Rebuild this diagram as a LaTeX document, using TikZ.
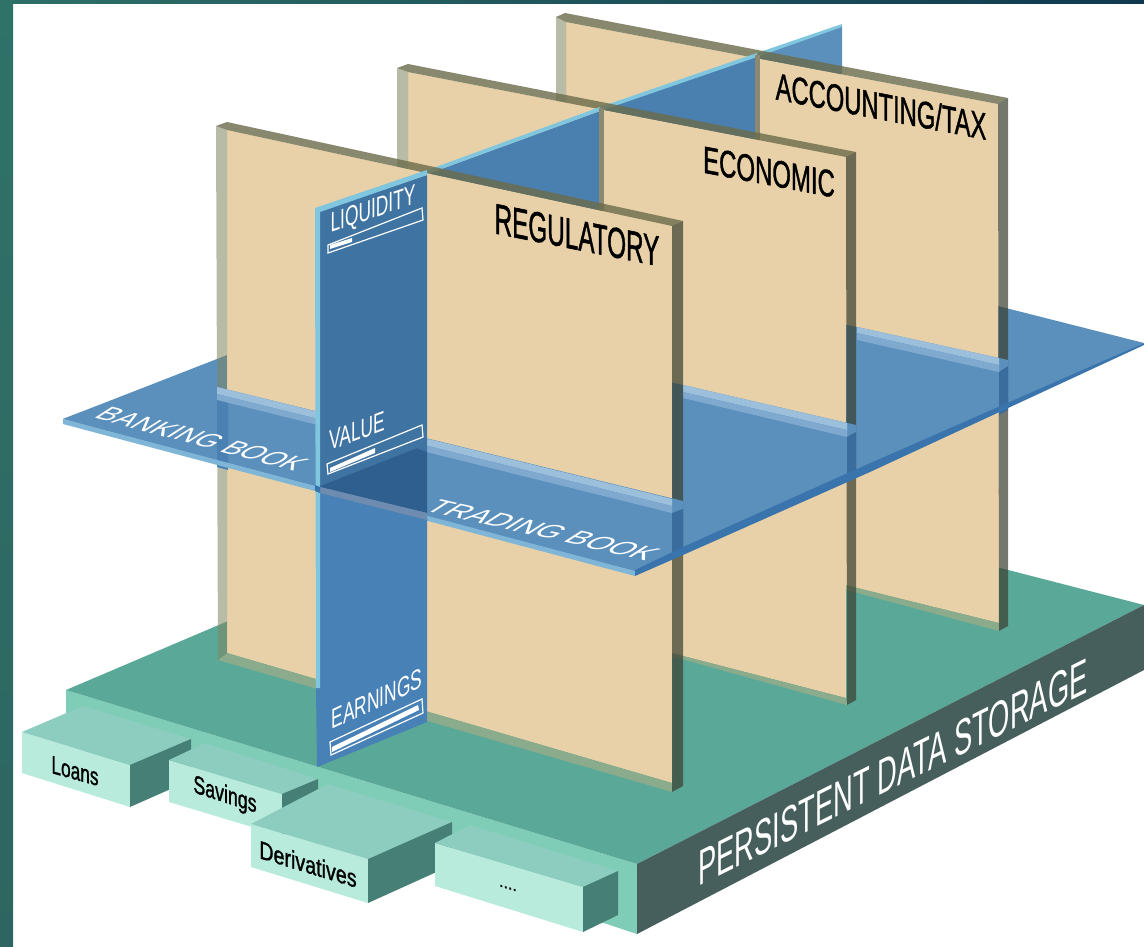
\documentclass[tikz,border=0pt]{standalone}
\usepackage{fontspec}
\setmainfont{Liberation Sans}
\newfontfamily\heavyfont[FakeBold=1.4]{Liberation Sans}
\definecolor{paneltan}{HTML}{E8D1A8}
\definecolor{frameA}{HTML}{2E7068}
\definecolor{frameB}{HTML}{10394F}
\definecolor{frameC}{HTML}{2F7268}
\definecolor{frameD}{HTML}{2E6560}
\definecolor{slabtop}{HTML}{5AA898}
\definecolor{slabfront}{HTML}{7FCDB6}
\definecolor{slabside}{HTML}{465F5C}
\definecolor{boxtop}{HTML}{8CCDBF}
\definecolor{boxfront}{HTML}{B8EBDB}
\definecolor{boxside}{HTML}{467F75}
\definecolor{planeblue}{HTML}{5B90BC}
\definecolor{lightstrip}{HTML}{9CC0DC}
\definecolor{bandstrip}{HTML}{7FA9CF}
\definecolor{edgelight}{HTML}{7FB5D6}
\definecolor{edgedark}{HTML}{3A74AC}
\definecolor{cyanedge}{HTML}{7FC6DE}
\definecolor{segup}{HTML}{3F73A2}
\definecolor{seglow}{HTML}{4781B6}
\definecolor{segmid}{HTML}{4A80B0}
\definecolor{segback}{HTML}{5B90BC}
\definecolor{segdark}{HTML}{2F5F8E}
\definecolor{seggrey}{HTML}{6E8CB0}
\definecolor{underblue}{HTML}{3A6C9E}
\definecolor{leftunder}{HTML}{4A80B2}
\definecolor{bottomstrip}{HTML}{8AAB8C}
\definecolor{olivetop}{HTML}{6B6B4A}
\definecolor{oliveleft}{HTML}{7F8560}
\definecolor{oliveright}{HTML}{3A3F2F}
\definecolor{olivevert}{HTML}{8A8A72}
\tikzset{
  facefill/.style={fill=paneltan},
  topedge/.style={fill=olivetop,fill opacity=.8},
  leftedge/.style={fill=oliveleft,fill opacity=.55},
  rightedge/.style={fill=oliveright,fill opacity=.7},
  botedge/.style={fill=bottomstrip},
  lbl/.style n args={3}{inner sep=0pt,outer sep=0pt,cm={#1,#2,0,#3,(0,0)}},
  flat/.style n args={4}{inner sep=0pt,outer sep=0pt,cm={#1,#2,#3,#4,(0,0)}},
  barline/.style={draw=white,line width=1.2pt,line join=miter},
  whitefill/.style={fill=white}
}
\begin{document}
\begin{tikzpicture}[x=1pt,y=-1pt]
\path[use as bounding box,fill=white] (0,0) rectangle (1144,946);
% frame strips
\shade[left color=frameA,right color=frameB] (0,0) rectangle (1144,3);
\shade[top color=frameC,bottom color=frameD] (0,0) rectangle (13,946);
% slab
\fill[slabfront] (66,690)--(637,864)--(637,934)--(66,745)--cycle;
\fill[slabtop] (66,690)--(597,464)--(1144,605)--(637,864)--cycle;
\fill[slabside] (637,864)--(1144,605)--(1144,670)--(637,934)--cycle;
% boxes
\fill[boxfront] (22,732)--(130,765)--(130,807)--(22,773)--cycle;
\fill[boxtop] (22,732)--(83,706)--(191,739)--(130,765)--cycle;
\fill[boxside] (130,765)--(191,739)--(191,780)--(130,807)--cycle;
\fill[boxfront] (169,760)--(282,794)--(282,836)--(169,802)--cycle;
\fill[boxtop] (169,760)--(205,743)--(318,779)--(282,794)--cycle;
\fill[boxside] (282,794)--(318,779)--(318,821)--(282,836)--cycle;
\fill[boxfront] (251,824)--(368,859)--(368,903)--(251,867)--cycle;
\fill[boxtop] (251,824)--(328,784)--(452,822)--(368,859)--cycle;
\fill[boxside] (368,859)--(452,822)--(452,865)--(368,903)--cycle;
\fill[boxfront] (435,843)--(583,887)--(583,932)--(435,886)--cycle;
\fill[boxtop] (435,843)--(470,825)--(618,871)--(583,887)--cycle;
\fill[boxside] (583,887)--(618,871)--(618,915)--(583,932)--cycle;
% whole plane
\fill[planeblue] (63,419)--(607,207)--(1144,343)--(635,572)--cycle;
% back blue segment
\fill[segback] (757,55)--(842,26)--(842,200)--(757,200)--cycle;
\fill[cyanedge] (757,53)--(842,24)--(842,27)--(757,57)--cycle;
% accounting panel
\fill[facefill] (566,22)--(998,104)--(999,623)--(566,516)--cycle;
\fill[botedge] (566,516)--(999,623)--(999,631)--(556,512)--cycle;
\fill[leftedge] (556,17)--(566,22)--(566,516)--(556,512)--cycle;
\fill[topedge] (556,17)--(565,13)--(1008,98)--(998,104)--(566,22)--cycle;
\fill[rightedge] (998,104)--(1008,98)--(1008,626)--(999,631)--cycle;
% plane piece in front of accounting
\fill[planeblue] (800,315)--(857,327)--(1008,360)--(1008,404)--(856,472)--(800,500)--cycle;
\fill[lightstrip] (857,327)--(999,358)--(999,365)--(857,333)--cycle;
\fill[bandstrip] (857,333)--(999,365)--(999,372)--(857,340)--cycle;
\fill[underblue] (999,372)--(1008,366)--(1008,410)--(999,415)--cycle;
% blue segment C
\fill[segmid] (600,110)--(757,56)--(757,300)--(600,300)--cycle;
\fill[cyanedge] (600,107)--(757,53)--(757,57)--(600,111)--cycle;
\fill[olivevert] (755,55)--(760,55)--(760,145)--(755,145)--cycle;
% economic panel
\fill[facefill] (408,72)--(846,157)--(846,698)--(408,585)--cycle;
\fill[botedge] (408,585)--(846,698)--(847,705)--(397,580)--cycle;
\fill[leftedge] (397,68)--(408,72)--(408,585)--(397,580)--cycle;
\fill[topedge] (397,68)--(408,64)--(856,152)--(846,157)--(408,72)--cycle;
\fill[rightedge] (846,157)--(856,152)--(856,700)--(847,705)--cycle;
% plane piece in front of economic
\fill[planeblue] (600,366)--(683,385)--(856,425)--(856,472)--(635,572)--(600,560)--cycle;
\fill[lightstrip] (683,385)--(847,423)--(847,430)--(683,392)--cycle;
\fill[bandstrip] (683,392)--(847,430)--(847,437)--(683,398)--cycle;
\fill[underblue] (847,437)--(856,432)--(856,472)--(847,477)--cycle;
% blue segment B
\fill[segmid] (425,175)--(600,111)--(600,300)--(425,300)--cycle;
\fill[cyanedge] (425,171)--(600,107)--(600,111)--(425,175)--cycle;
\fill[olivevert] (599,108)--(604,108)--(604,225)--(599,225)--cycle;
% regulatory panel
\fill[facefill] (227,130)--(672,226)--(672,783)--(227,653)--cycle;
\fill[botedge] (227,653)--(672,783)--(672,792)--(218,660)--cycle;
\fill[leftedge] (216,126)--(227,130)--(227,653)--(218,660)--cycle;
\fill[topedge] (216,126)--(227,122)--(683,221)--(672,226)--(227,130)--cycle;
\fill[rightedge] (672,226)--(683,221)--(683,786)--(672,792)--cycle;
% plane piece in front of regulatory
\fill[planeblue] (63,419)--(217,361)--(217,387)--(683,501)--(683,550)--(635,572)--cycle;
\fill[lightstrip] (217,387)--(672,499)--(672,506)--(217,394)--cycle;
\fill[bandstrip] (217,394)--(672,506)--(672,513)--(217,400)--cycle;
\fill[underblue] (672,513)--(683,509)--(683,553)--(672,560)--cycle;
\fill[leftunder] (217,400)--(228,403)--(228,470)--(217,467)--cycle;
% plane front edges
\fill[edgelight] (63,419)--(635,571)--(635,576)--(63,424)--cycle;
\fill[edgedark] (635,570)--(683,547)--(850,472)--(1144,343)--(1144,345)--(870,472)--(683,555)--(635,576)--cycle;
% blue segment A
\fill[seglow] (316,688)--(320,688)--(320,490)--(427,515)--(427,722)--(317,767)--cycle;
\fill[segup] (320,211)--(427,175)--(427,452)--(417,448)--(320,486)--cycle;
\fill[cyanedge] (315,208)--(427,170)--(427,175)--(320,212)--(320,688)--(316,688)--cycle;
\fill[segdark] (320,486)--(417,448)--(427,452)--(427,513)--(320,487)--cycle;
\fill[seggrey] (320,487)--(427,513)--(427,520)--(320,493)--cycle;
\fill[edgedark] (315,485)--(320,487)--(320,493)--(315,491)--cycle;
% bars
\draw[barline] (328,245)--(422,208)--(423,220)--(328,253)--cycle;
\fill[whitefill] (330,245)--(352,238)--(352,242)--(330,249)--cycle;
\draw[barline] (327,464)--(422,425)--(423,437)--(328,474)--cycle;
\fill[whitefill] (330,468)--(375,448)--(375,453)--(330,472)--cycle;
\draw[barline] (330,742)--(422,699)--(423,713)--(331,755)--cycle;
\fill[whitefill] (332,747)--(418,705)--(419,710)--(332,752)--cycle;
% labels
\node[lbl={.62}{.21}{1},text=white,font=\fontsize{28}{28}\selectfont] (liq) at (373,211) {LIQUIDITY};
\node[lbl={.62}{.23}{1},text=white,font=\fontsize{28}{28}\selectfont] (val) at (357,431) {VALUE};
\node[lbl={.62}{.29}{1},text=white,font=\fontsize{28}{28}\selectfont] (earn) at (377,699) {EARNINGS};
\node[lbl={.565}{-.113}{1},font=\heavyfont\fontsize{43}{43}\selectfont] (reg) at (577,235) {REGULATORY};
\node[lbl={.63}{-.12}{1},font=\heavyfont\fontsize{38}{38}\selectfont] (eco) at (769,172) {ECONOMIC};
\node[lbl={.625}{-.12}{1},font=\heavyfont\fontsize{38}{38}\selectfont] (acc) at (881,106) {ACCOUNTING/TAX};
\node[lbl={.57}{.285}{1.04},text=white,font=\fontsize{48}{48}\selectfont] (pds) at (893,772) {PERSISTENT DATA STORAGE};
\node[flat={1.31}{-.35}{1.25}{.8},text=white,font=\fontsize{20}{20}\selectfont] (bank) at (202,439) {BANKING BOOK};
\node[flat={1.45}{-.33}{1.25}{.8},text=white,font=\fontsize{20}{20}\selectfont] (trad) at (543,530) {TRADING BOOK};
\node[lbl={.72}{-.2}{1.05},font=\heavyfont\fontsize{24}{24}\selectfont] (loans) at (75,771) {Loans};
\node[lbl={.74}{-.24}{1.05},font=\heavyfont\fontsize{24}{24}\selectfont] (sav) at (225,796) {Savings};
\node[lbl={.82}{-.25}{1.05},font=\heavyfont\fontsize{24}{24}\selectfont] (der) at (308,864) {Derivatives};
\node[lbl={1}{-.3}{1},font=\heavyfont\fontsize{16}{16}\selectfont] (dots) at (508,888) {....};
\end{tikzpicture}
\end{document}
